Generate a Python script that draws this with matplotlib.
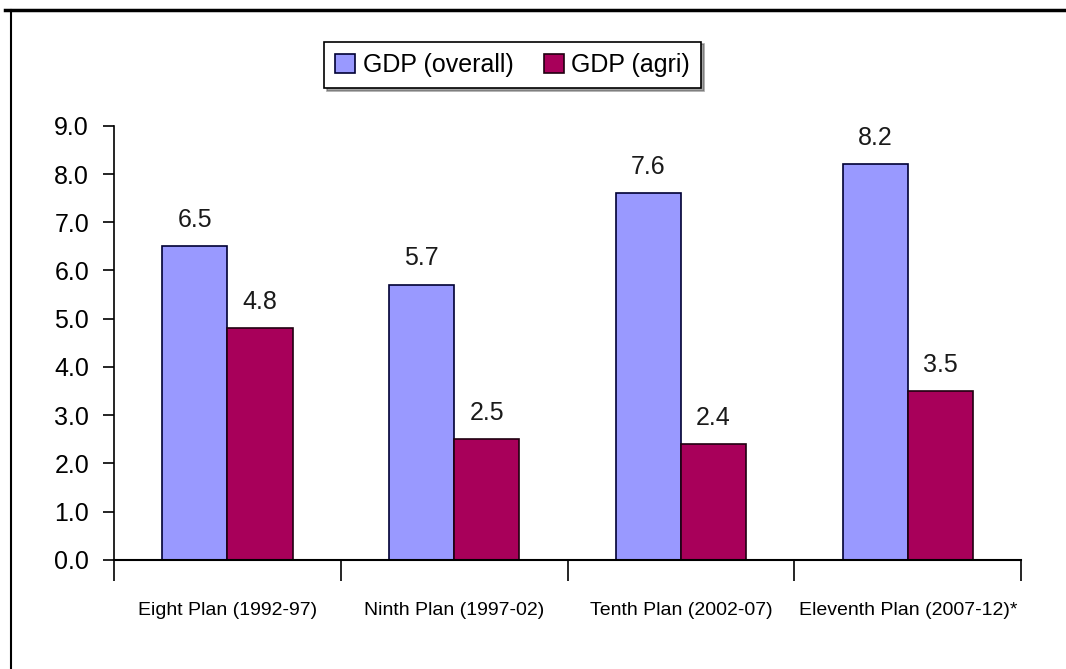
import numpy as np
import matplotlib.pyplot as plt
from matplotlib.lines import Line2D

plans = ["Eight Plan (1992-97)", "Ninth Plan (1997-02)",
         "Tenth Plan (2002-07)", "Eleventh Plan (2007-12)*"]
gdp_overall = [6.5, 5.7, 7.6, 8.2]
gdp_agri = [4.8, 2.5, 2.4, 3.5]
yticks = np.arange(0, 10, 1)

plt.rcParams['font.family'] = ['Liberation Sans', 'DejaVu Sans']

fig = plt.figure(figsize=(10.66, 6.69), dpi=100)
ax = fig.add_axes([0.107, 0.163, 0.851, 0.649])

x = np.arange(len(plans))
w = 0.287
b1 = ax.bar(x - w / 2, gdp_overall, w, color='#9999FF', edgecolor='#000033',
            linewidth=1.2, label='GDP (overall)')
b2 = ax.bar(x + w / 2, gdp_agri, w, color='#A8005A', edgecolor='#200010',
            linewidth=1.2, label='GDP (agri)')

for bars, vals in ((b1, gdp_overall), (b2, gdp_agri)):
    for r, v in zip(bars, vals):
        ax.text(r.get_x() + r.get_width() / 2, v + 0.3, f"{v:.1f}",
                ha='center', va='bottom', fontsize=18, color='#1a1a1a')

ax.set_xlim(-0.5, len(plans) - 0.5)
ax.set_ylim(0, 9)
ax.set_yticks(yticks)
ax.set_yticklabels([f"{t:.1f}" for t in yticks], fontsize=18)
ax.tick_params(axis='y', length=8, width=1.2, pad=10)

# category labels sit between the boundary ticks
ax.set_xticks(x)
ax.set_xticklabels(plans, fontsize=14)
ax.tick_params(axis='x', length=0, pad=30)
ax.set_xticks(np.arange(-0.5, len(plans)), minor=True)
ax.tick_params(axis='x', which='minor', length=15, width=1.2)

for s in ('top', 'right'):
    ax.spines[s].set_visible(False)
ax.spines['left'].set_linewidth(1.2)
ax.spines['bottom'].set_linewidth(1.5)

leg = fig.legend(loc='center', bbox_to_anchor=(0.481, 0.903), ncol=2,
                 fontsize=18, frameon=True, fancybox=False, shadow=True,
                 edgecolor='black', handlelength=0.8, handleheight=0.8,
                 handletextpad=0.3, columnspacing=1.2, borderpad=0.45)
leg.get_frame().set_linewidth(1.2)

# outer border (top and left only)
fig.add_artist(Line2D([0.005, 1.0], [0.985, 0.985], color='black', lw=2.5))
fig.add_artist(Line2D([0.0105, 0.0105], [0.0, 0.985], color='black', lw=1.5))

fig.savefig('out.png', dpi=100)
